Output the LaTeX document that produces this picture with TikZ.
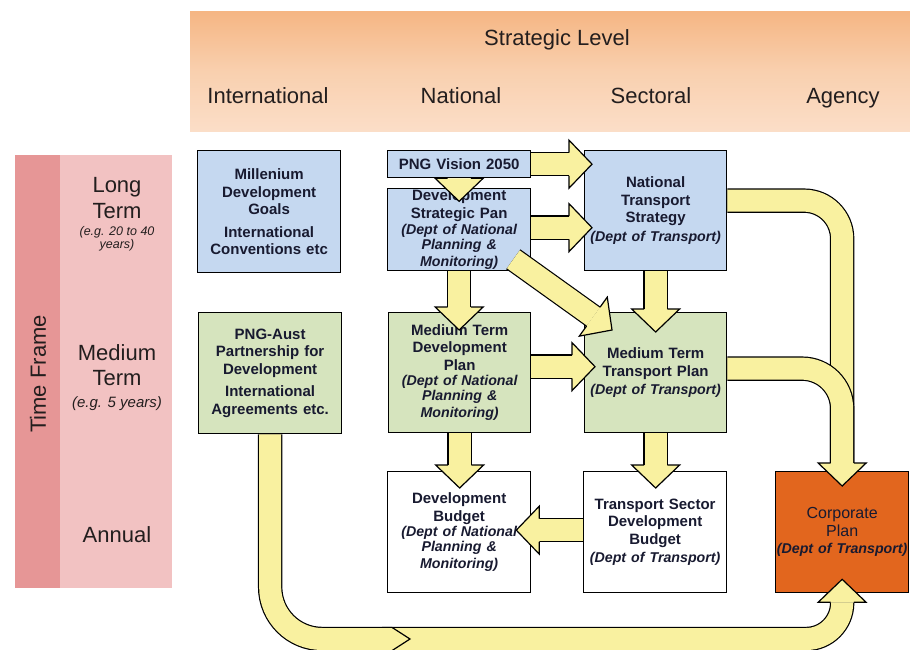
\documentclass[tikz,border=0pt]{standalone}
\usepackage{fontspec}
\setmainfont{Liberation Sans}
\usetikzlibrary{calc}
\definecolor{hdrtop}{RGB}{245,182,132}
\definecolor{hdrmid}{RGB}{249,208,175}
\definecolor{hdrbot}{RGB}{251,222,200}
\definecolor{tfdark}{RGB}{230,150,150}
\definecolor{tflight}{RGB}{242,194,194}
\definecolor{boxblue}{RGB}{197,216,240}
\definecolor{boxgreen}{RGB}{214,228,190}
\definecolor{corpor}{RGB}{226,102,30}
\definecolor{arrowy}{RGB}{249,241,160}
\definecolor{txt}{RGB}{24,26,48}
\definecolor{lbltxt}{RGB}{35,30,30}
\newcommand\boxf{\fontsize{15}{17.5}\selectfont\bfseries}
\newcommand\subf{\fontsize{14.2}{14.5}\selectfont\bfseries\itshape}
\newcommand\corpf{\fontsize{16}{17.5}\selectfont\mdseries}
\newcommand\bigf{\fontsize{22}{26}\selectfont}
\newcommand\yhead[2]{\filldraw[headst, shift={#1}, rotate=#2] (-23,11.6) -- (-23,24) -- (0,0) -- (-23,-24) -- (-23,-11.6);}
\newcommand\yarrow[3]{\draw[shaftout] #1 -- ($#2!23pt!#1$); \draw[shaftin] #1 -- ($#2!23pt!#1$); \yhead{#2}{#3}}
\tikzset{
  box/.style={draw=black, line width=1.3pt, anchor=north west, inner sep=0pt, align=center, text=txt, font=\boxf},
  shaftout/.style={draw=black, line width=24.4pt},
  shaftin/.style={draw=arrowy, line width=22pt},
  headst/.style={fill=arrowy, draw=black, line width=1.2pt, line join=miter},
  lbl/.style={font=\bigf, text=lbltxt, anchor=base, inner sep=0pt},
}
\begin{document}
\begin{tikzpicture}[x=1pt, y=-1pt]
\useasboundingbox (0,0) rectangle (910,650);
\fill[white] (0,0) rectangle (910,650);
% header band
\shade[top color=hdrtop, bottom color=hdrbot, middle color=hdrmid] (190,12) rectangle (910,132);
\node[lbl] (sl) at (557,46) {Strategic Level};
\node[lbl] (hint) at (268,104) {International};
\node[lbl] (hnat) at (461,104) {National};
\node[lbl] (hsec) at (651,104) {Sectoral};
\node[lbl] (hag) at (843,104) {Agency};
% time frame band
\fill[tflight] (15,155) rectangle (172,588);
\fill[tfdark] (15,155) rectangle (60,588);
\node[font=\bigf, text=lbltxt, rotate=90, inner sep=0pt] (tf) at (38,374) {Time Frame};
\node[lbl] (tlong) at (117,192) {Long};
\node[lbl] (tlterm) at (117,218) {Term};
\node[lbl, font=\fontsize{12.5}{14}\selectfont\itshape] (tln1) at (117,235) {(e.g. 20 to 40};
\node[lbl, font=\fontsize{12.5}{14}\selectfont\itshape] (tln2) at (117,248) {years)};
\node[lbl] (tmed) at (117,360) {Medium};
\node[lbl] (tmterm) at (117,385) {Term};
\node[lbl, font=\fontsize{15}{16}\selectfont\itshape] (tmn) at (117,407) {(e.g. 5 years)};
\node[lbl] (tann) at (117,542) {Annual};
% boxes
\node[box, fill=boxblue, minimum width=143pt, minimum height=122pt, text width=141pt] (mdg) at (197,150)
  {Millenium\\Development\\Goals\par\vspace{5pt}International\\Conventions etc};
\node[box, fill=boxblue, minimum width=143pt, minimum height=27pt, text width=141pt] (png) at (387,150)
  {PNG Vision 2050};
\node[box, fill=boxblue, minimum width=143pt, minimum height=82pt, text width=141pt] (dsp) at (387,188)
  {Development\\Strategic Pan\par\vspace{2pt}\subf (Dept of National\\Planning \&\\Monitoring)};
\node[box, fill=boxblue, minimum width=142pt, minimum height=120pt, text width=140pt] (nts) at (584,150)
  {National\\Transport\\Strategy\par\vspace{1pt}\subf (Dept of Transport)};
\node[box, fill=boxgreen, minimum width=143pt, minimum height=121pt, text width=141pt] (paust) at (198,312)
  {PNG-Aust\\Partnership for\\Development\par\vspace{5pt}International\\Agreements etc.};
\node[box, fill=boxgreen, minimum width=142pt, minimum height=120pt, text width=140pt] (mtdp) at (388,312)
  {Medium Term\\Development\\Plan\par\vspace{1pt}\subf (Dept of National\\Planning \&\\Monitoring)};
\node[box, fill=boxgreen, minimum width=142pt, minimum height=120pt, text width=140pt] (mttp) at (584,312)
  {Medium Term\\Transport Plan\par\vspace{1pt}\subf (Dept of Transport)};
\node[box, fill=white, minimum width=143pt, minimum height=121pt, text width=141pt] (db) at (387,471)
  {Development\\Budget\par\vspace{1pt}\subf (Dept of National\\Planning \&\\Monitoring)};
\node[box, fill=white, minimum width=143pt, minimum height=121pt, text width=141pt] (tsdb) at (583,471)
  {Transport Sector\\Development\\Budget\par\vspace{1pt}\subf (Dept of Transport)};
\node[box, fill=corpor, minimum width=133pt, minimum height=121pt, text width=133pt] (corp) at (775,471)
  {\corpf Corporate\\Plan\par\subf (Dept of Transport)};
% straight arrows
\coordinate (t1) at ($(png.east -| nts.west)+(8,0)$);
\yarrow{(png.east)}{(t1)}{0}
\coordinate (s2) at ($(dsp.east)+(0,-2)$);
\coordinate (t2) at ($(s2 -| nts.west)+(8,0)$);
\yarrow{(s2)}{(t2)}{0}
\coordinate (t3) at ($(png.south)+(0,23)$);
\yhead{(t3)}{-90}
\coordinate (t4) at ($(dsp.south |- mtdp.north)+(0,18)$);
\yarrow{(dsp.south)}{(t4)}{-90}
\coordinate (s5) at ($(dsp.south east)+(-18,-12)$);
\coordinate (t5) at ($(mttp.north west)+(28,18)$);
\yarrow{(s5)}{(t5)}{-35.6}
\coordinate (t6) at ($(nts.south |- mttp.north)+(0,20)$);
\yarrow{(nts.south)}{(t6)}{-90}
\coordinate (s7) at ($(mtdp.east)+(0,-6)$);
\coordinate (t7) at ($(s7 -| mttp.west)+(11,0)$);
\yarrow{(s7)}{(t7)}{0}
\coordinate (t8) at ($(mtdp.south |- db.north)+(0,17)$);
\yarrow{(mtdp.south)}{(t8)}{-90}
\coordinate (t9) at ($(mttp.south |- tsdb.north)+(0,17)$);
\yarrow{(mttp.south)}{(t9)}{-90}
\coordinate (s10) at ($(tsdb.west)+(0,-2)$);
\coordinate (t10) at ($(s10 -| db.east)+(-15,0)$);
\yarrow{(s10)}{(t10)}{180}
% curved arrows into corporate plan (top)
\coordinate (s11) at ($(nts.east)+(0,-10)$);
\coordinate (b11) at ($(corp.north)+(0,-8)$);
\coordinate (t11) at ($(corp.north)+(0,15)$);
\draw[shaftout, rounded corners=38pt] (s11) -- (s11 -| corp.north) -- (b11);
\draw[shaftin, rounded corners=38pt] (s11) -- (s11 -| corp.north) -- (b11);
\coordinate (s12) at ($(mttp.east)+(0,-4)$);
\draw[shaftout, rounded corners=40pt] (s12) -- (s12 -| corp.north) -- (b11);
\draw[shaftin, rounded corners=40pt] (s12) -- (s12 -| corp.north) -- (b11);
\yhead{(t11)}{-90}
% bottom arrows into corporate plan
\coordinate (s13) at (382,639);
\coordinate (b13) at ($(corp.south)+(0,9)$);
\coordinate (t13) at ($(corp.south)+(0,-14)$);
\draw[shaftout, rounded corners=36pt] (s13) -- (s13 -| corp.south) -- (b13);
\draw[shaftin, rounded corners=36pt] (s13) -- (s13 -| corp.south) -- (b13);
\yhead{(t13)}{90}
\coordinate (e14) at (392,639);
\draw[shaftout, rounded corners=52pt] (paust.south) -- (paust.south |- e14) -- (e14);
\draw[shaftin, rounded corners=52pt] (paust.south) -- (paust.south |- e14) -- (e14);
\filldraw[headst] ($(e14)+(0,-11.6)$) -- ($(e14)+(18,0)$) -- ($(e14)+(0,11.6)$);
\end{tikzpicture}
\end{document}
